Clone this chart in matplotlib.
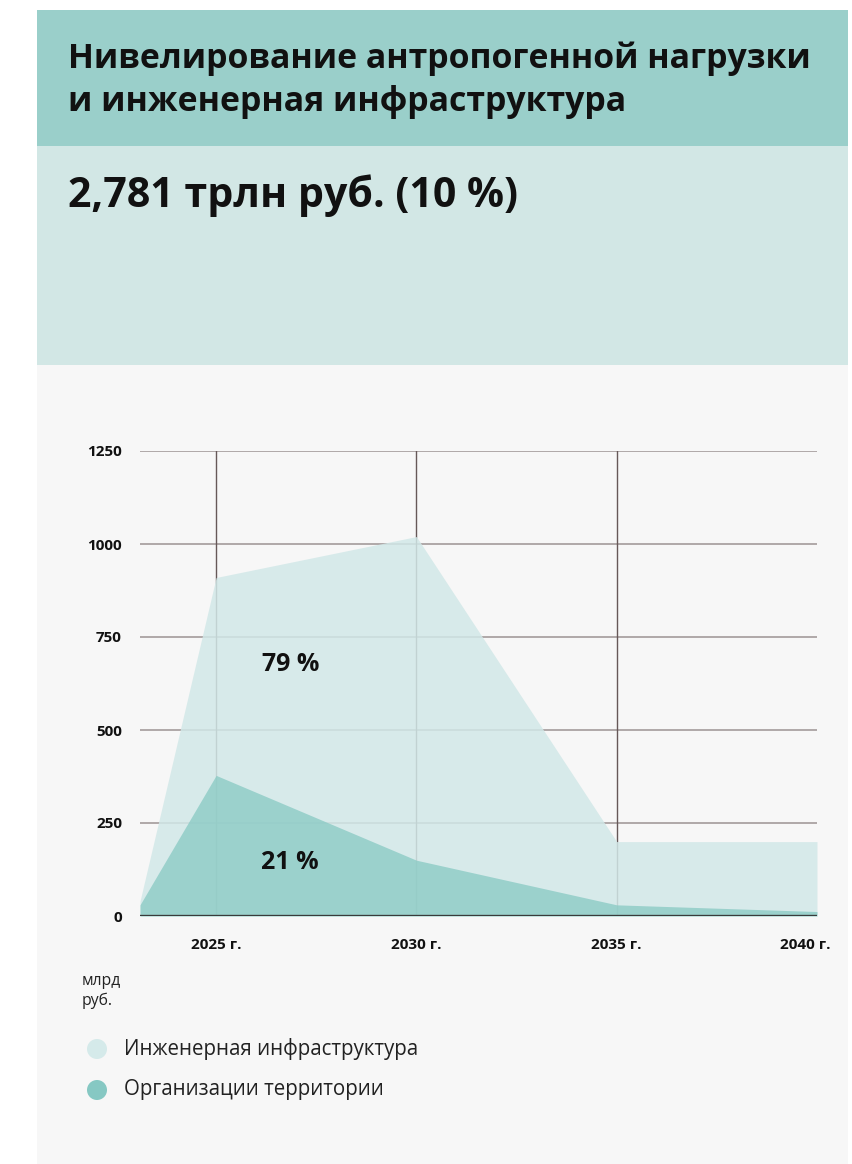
import matplotlib
matplotlib.use("Agg")
import matplotlib.pyplot as plt
from matplotlib.patches import Rectangle, Circle

plt.rcParams['font.family'] = ['Open Sans', 'DejaVu Sans']

years = [2023.1, 2025, 2030, 2035, 2040]
infra = [40, 910, 1020, 200, 200]
org = [30, 378, 150, 30, 12]
yticks = [0, 250, 500, 750, 1000, 1250]
xtick_years = [2025, 2030, 2035, 2040]
xtick_labels = ["2025 г.", "2030 г.", "2035 г.", "2040 г."]
series_names = ["Инженерная инфраструктура", "Организации территории"]
shares = ["79 %", "21 %"]

W, H = 852, 1164
fig = plt.figure(figsize=(W / 100, H / 100), dpi=100)
fig.patch.set_facecolor("white")

bg = fig.add_axes([0, 0, 1, 1], zorder=0)
bg.set_xlim(0, W)
bg.set_ylim(H, 0)
bg.axis("off")

bg.add_patch(Rectangle((37, 10), 811, 136, facecolor="#9acfca", edgecolor="none"))
bg.add_patch(Rectangle((37, 146), 811, 219, facecolor="#d2e7e5", edgecolor="none"))
bg.add_patch(Rectangle((37, 365), 811, 800, facecolor="#f7f7f7", edgecolor="none"))

bg.text(68, 59, "Нивелирование антропогенной нагрузки", fontsize=24.4,
        fontweight="bold", color="#111111", va="center", ha="left")
bg.text(68, 102, "и инженерная инфраструктура", fontsize=24.4,
        fontweight="bold", color="#111111", va="center", ha="left")
bg.text(68, 196, "2,781 трлн руб. (10 %)", fontsize=29.6,
        fontweight="bold", color="#111111", va="center", ha="left")

bg.text(82, 991, "млрд\nруб.", fontsize=11.3, color="#222222",
        va="center", ha="left", linespacing=1.25)

leg_colors = ["#d5eaea", "#86c8c3"]
for i, (name, c) in enumerate(zip(series_names, leg_colors)):
    yc = 1049 + i * 41
    bg.add_patch(Circle((97, yc), 10, facecolor=c, edgecolor="none"))
    bg.text(124, yc, name, fontsize=14.8, color="#222222", va="center", ha="left")

ax = fig.add_axes([140 / W, 1 - 916 / H, 677 / W, 465 / H], zorder=2)
ax.set_facecolor("none")
ax.set_xlim(years[0], 2040)
ax.set_ylim(0, 1250)
for s in ax.spines.values():
    s.set_visible(False)

for y in yticks[1:]:
    ax.axhline(y, color="#b0a8a8", lw=1.4, zorder=1)
for x in xtick_years[:-1]:
    ax.axvline(x, color="#665858", lw=1.0, zorder=1)

ax.fill_between(years, 0, infra, color="#d2e8e8", alpha=0.85, lw=0, zorder=2)
ax.fill_between(years, 0, org, color="#8ccbc5", alpha=0.8, lw=0, zorder=3)
ax.axhline(0, color="#3a3a3a", lw=2.4, zorder=4)

ax.set_yticks(yticks)
ax.set_yticklabels([str(v) for v in yticks], fontsize=11, fontweight="bold", color="#111111")
ax.set_xticks(xtick_years[:-1])
ax.set_xticklabels(xtick_labels[:-1], fontsize=11, fontweight="bold", color="#111111")
ax.tick_params(axis="both", length=0)
ax.tick_params(axis="y", pad=13)
ax.tick_params(axis="x", pad=16)
ax.annotate(xtick_labels[-1], xy=(xtick_years[-1], 0), xycoords="data",
            xytext=(-12, -29), textcoords="offset pixels", fontsize=11,
            fontweight="bold", color="#111111", ha="center", va="center",
            annotation_clip=False)

ax.text(2026.85, 675, shares[0], fontsize=18, fontweight="bold", color="#111111",
        ha="center", va="center", zorder=5)
ax.text(2026.85, 145, shares[1], fontsize=18, fontweight="bold", color="#111111",
        ha="center", va="center", zorder=5)

fig.savefig("out.png", dpi=100, facecolor="white")
